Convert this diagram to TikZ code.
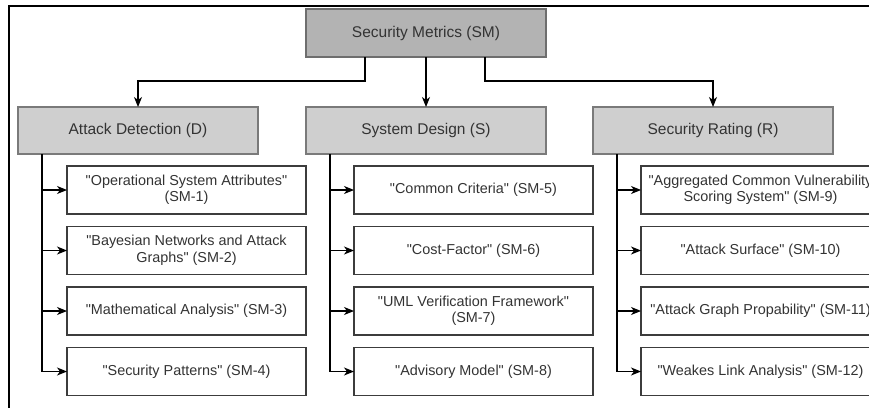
\documentclass[tikz,border=0pt]{standalone}
\usepackage{fontspec}
\setmainfont{Liberation Sans}[Ligatures=TeXOff]
\usetikzlibrary{arrows.meta}
\definecolor{txt}{HTML}{333333}
\definecolor{rootfill}{HTML}{B3B3B3}
\definecolor{rootline}{HTML}{6E6E6E}
\definecolor{catfill}{HTML}{CFCFCF}
\definecolor{catline}{HTML}{7A7A7A}
\definecolor{leafline}{HTML}{3C3C3C}
\tikzset{
  rootbox/.style={draw=rootline, fill=rootfill, line width=1.1pt, minimum width=240pt, minimum height=48pt,
    inner sep=0pt, outer sep=0pt, text=txt, font=\fontsize{15.5}{18}\selectfont},
  catbox/.style={draw=catline, fill=catfill, line width=1.1pt, minimum width=240pt, minimum height=47pt,
    inner sep=0pt, outer sep=0pt, text=txt, font=\fontsize{15.5}{18}\selectfont},
  leafbox/.style={draw=leafline, fill=white, line width=1.2pt, minimum width=239pt, minimum height=48pt,
    inner sep=0pt, outer sep=0pt, text=txt, align=center, font=\fontsize{14.4}{16.5}\selectfont},
  arr/.style={draw=black, line width=1.1pt, -{Stealth[length=10pt,width=8pt,inset=3pt]}},
}
\begin{document}
\begin{tikzpicture}[x=1pt,y=-1pt]
  \useasboundingbox (0,0) rectangle (869,407);
  \clip (0,0) rectangle (869,407);
  % outer frame (runs past the right and bottom edges)
  \draw[black, line width=1.8pt] (9,6) rectangle (890,430);

  % root and categories
  \node[rootbox] (sm) at (426,33) {Security Metrics (SM)};
  \node[catbox] (d) at (138,130.5) {Attack Detection (D)};
  \node[catbox] (s) at (426,130.5) {System Design (S)};
  \node[catbox] (r) at (713,130.5) {Security Rating (R)};

  % Attack Detection leaves
  \node[leafbox] (d1) at (186.5,190) {"Operational System Attributes"\\(SM-1)};
  \node[leafbox] (d2) at (186.5,250.5) {"Bayesian Networks and Attack\\Graphs" (SM-2)};
  \node[leafbox] (d3) at (186.5,311) {"Mathematical Analysis" (SM-3)};
  \node[leafbox] (d4) at (186.5,371.5) {"Security Patterns" (SM-4)};

  % System Design leaves
  \node[leafbox] (s1) at (473.5,190) {"Common Criteria" (SM-5)};
  \node[leafbox] (s2) at (473.5,250.5) {"Cost-Factor" (SM-6)};
  \node[leafbox] (s3) at (473.5,311) {"UML Verification Framework"\\(SM-7)};
  \node[leafbox] (s4) at (473.5,371.5) {"Advisory Model" (SM-8)};

  % Security Rating leaves
  \node[leafbox] (r1) at (760.5,190) {"Aggregated Common Vulnerability\\Scoring System" (SM-9)};
  \node[leafbox] (r2) at (760.5,250.5) {"Attack Surface" (SM-10)};
  \node[leafbox] (r3) at (760.5,311) {"Attack Graph Propability" (SM-11)};
  \node[leafbox] (r4) at (760.5,371.5) {"Weakes Link Analysis" (SM-12)};

  % root to categories
  \draw[arr] ([xshift=-61pt]sm.south) -- ++(0,24) -| (d.north);
  \draw[arr] (sm.south) -- (s.north);
  \draw[arr] ([xshift=59pt]sm.south) -- ++(0,24) -| (r.north);

  % categories to leaves
  \foreach \c in {d,s,r}{
    \foreach \i in {1,...,4}{
      \draw[arr] ([xshift=24pt]\c.south west) |- (\c\i.west);
    }
  }
\end{tikzpicture}
\end{document}
